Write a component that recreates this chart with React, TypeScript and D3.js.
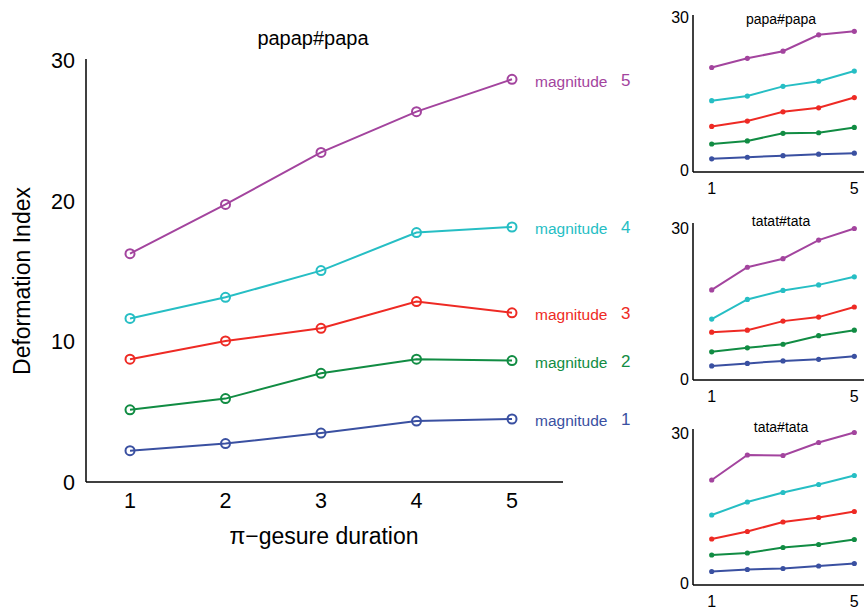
import React from "react";
import * as d3 from "d3";

const durations = [1, 2, 3, 4, 5];
const magnitudes = [1, 2, 3, 4, 5];
const colors = ["#3A50A1", "#118C43", "#EE2A24", "#26BEC4", "#A3449E"];

// main panel: papap#papa
const mainM1 = [2.3, 2.8, 3.55, 4.4, 4.55];
const mainM2 = [5.2, 6.0, 7.8, 8.8, 8.7];
const mainM3 = [8.8, 10.1, 11.0, 12.9, 12.1];
const mainM4 = [11.7, 13.2, 15.1, 17.8, 18.2];
const mainM5 = [16.3, 19.8, 23.5, 26.4, 28.7];

// small panel: papa#papa
const papaM1 = [2.2, 2.5, 2.8, 3.1, 3.3];
const papaM2 = [5.1, 5.7, 7.2, 7.3, 8.35];
const papaM3 = [8.55, 9.6, 11.4, 12.2, 14.2];
const papaM4 = [13.6, 14.5, 16.4, 17.4, 19.4];
const papaM5 = [20.1, 21.9, 23.3, 26.5, 27.2];

// small panel: tatat#tata
const tatatM1 = [2.6, 3.1, 3.6, 3.9, 4.5];
const tatatM2 = [5.4, 6.2, 6.9, 8.6, 9.7];
const tatatM3 = [9.3, 9.7, 11.5, 12.3, 14.3];
const tatatM4 = [11.9, 15.8, 17.6, 18.7, 20.3];
const tatatM5 = [17.7, 22.2, 23.9, 27.6, 29.9];

// small panel: tata#tata
const tataM1 = [2.3, 2.7, 2.9, 3.4, 3.9];
const tataM2 = [5.6, 6.0, 7.1, 7.7, 8.7];
const tataM3 = [8.8, 10.3, 12.2, 13.1, 14.3];
const tataM4 = [13.6, 16.2, 18.1, 19.7, 21.5];
const tataM5 = [20.6, 25.6, 25.5, 28.1, 30.1];

const mainTitle = "papap#papa";
const mainYTicks = [0, 10, 20, 30];
const smallYTicks = [0, 30];
const smallXTicks = [1, 5];

const FONT = "'Liberation Sans', Arial, Helvetica, sans-serif";

const smallPanels = [
  { title: "papa#papa", series: [papaM1, papaM2, papaM3, papaM4, papaM5], y0: 170, y30: 17, axisY: 172, axisTop: 15, titleY: 24 },
  { title: "tatat#tata", series: [tatatM1, tatatM2, tatatM3, tatatM4, tatatM5], y0: 379, y30: 228, axisY: 380, axisTop: 223, titleY: 226 },
  { title: "tata#tata", series: [tataM1, tataM2, tataM3, tataM4, tataM5], y0: 583, y30: 433, axisY: 585, axisTop: 429, titleY: 432 },
];

function SmallPanel({ p }: { p: any }) {
  const x = d3.scaleLinear().domain([1, 5]).range([711.7, 854.3]);
  const y = d3.scaleLinear().domain([0, 30]).range([p.y0, p.y30]);
  const line = d3
    .line<number>()
    .x((_, i) => x(durations[i]))
    .y((d) => y(d));
  return (
    <g>
      <line x1={693} x2={693} y1={p.axisTop} y2={p.axisY} stroke="#000" strokeWidth={1.5} />
      <line x1={693} x2={870} y1={p.axisY} y2={p.axisY} stroke="#000" strokeWidth={1.5} />
      {smallYTicks.map((t) => (
        <text key={t} x={689} y={y(t)} textAnchor="end" dominantBaseline="central" fontSize={16} fontFamily={FONT} fill="#000">
          {t}
        </text>
      ))}
      {smallXTicks.map((t) => (
        <text key={t} x={x(t)} y={p.axisY + 16} textAnchor="middle" dominantBaseline="central" fontSize={16} fontFamily={FONT} fill="#000">
          {t}
        </text>
      ))}
      <text x={781} y={p.titleY} textAnchor="middle" fontSize={14} fontFamily={FONT} fill="#000">
        {p.title}
      </text>
      {p.series.map((s: number[], k: number) => (
        <g key={k}>
          <path d={line(s) || ""} fill="none" stroke={colors[k]} strokeWidth={2} />
          {s.map((v, i) => (
            <circle key={i} cx={x(durations[i])} cy={y(v)} r={2.6} fill={colors[k]} />
          ))}
        </g>
      ))}
    </g>
  );
}

export default function App() {
  const x = d3.scaleLinear().domain([1, 5]).range([130, 512]);
  const y = d3.scaleLinear().domain([0, 30]).range([483, 61]);
  const mainSeries = [mainM1, mainM2, mainM3, mainM4, mainM5];
  const line = d3
    .line<number>()
    .x((_, i) => x(durations[i]))
    .y((d) => y(d));
  return (
    <svg width={864} height={609} style={{ position: "absolute", left: 0, top: 0, background: "#fff" }}>
      <rect width={864} height={609} fill="#fff" />
      <line x1={86} x2={86} y1={59} y2={482} stroke="#000" strokeWidth={1.5} />
      <line x1={86} x2={563} y1={482} y2={482} stroke="#000" strokeWidth={1.5} />
      {mainYTicks.map((t) => (
        <text key={t} x={75} y={y(t)} textAnchor="end" dominantBaseline="central" fontSize={21.5} fontFamily={FONT} fill="#000">
          {t}
        </text>
      ))}
      {durations.map((t) => (
        <text key={t} x={x(t)} y={501} textAnchor="middle" dominantBaseline="central" fontSize={21.5} fontFamily={FONT} fill="#000">
          {t}
        </text>
      ))}
      <text x={324} y={544} textAnchor="middle" fontSize={23} fontFamily={FONT} fill="#000">
        π−gesure duration
      </text>
      <text transform="translate(30,281) rotate(-90)" textAnchor="middle" fontSize={23} fontFamily={FONT} fill="#000">
        Deformation Index
      </text>
      <text x={313} y={45} textAnchor="middle" fontSize={20} fontFamily={FONT} fill="#000">
        {mainTitle}
      </text>
      {mainSeries.map((s, k) => (
        <g key={k}>
          <path d={line(s) || ""} fill="none" stroke={colors[k]} strokeWidth={2} />
          {s.map((v, i) => (
            <circle key={i} cx={x(durations[i])} cy={y(v)} r={4.5} fill="none" stroke={colors[k]} strokeWidth={2} />
          ))}
          <text x={535} y={y(s[s.length - 1]) + 2} dominantBaseline="central" fontSize={15.5} fontFamily={FONT} fill={colors[k]}>
            magnitude
          </text>
          <text x={621} y={y(s[s.length - 1]) + 1} dominantBaseline="central" fontSize={17} fontFamily={FONT} fill={colors[k]}>
            {magnitudes[k]}
          </text>
        </g>
      ))}
      {smallPanels.map((p, i) => (
        <SmallPanel key={i} p={p} />
      ))}
    </svg>
  );
}
